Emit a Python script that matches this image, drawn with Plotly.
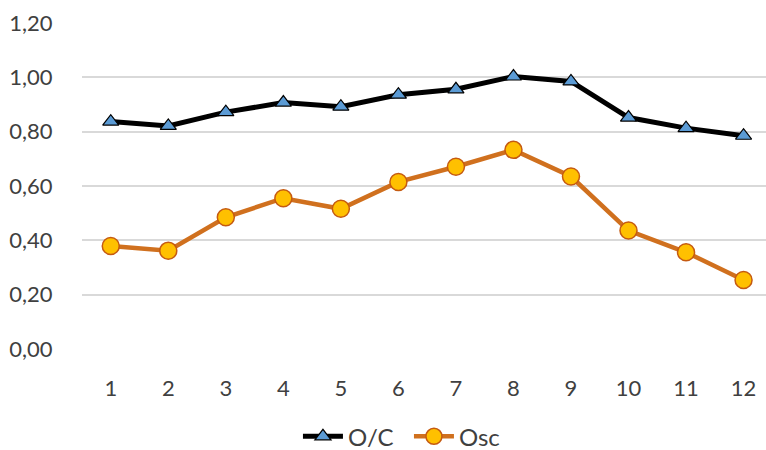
import plotly.graph_objects as go

months = [1, 2, 3, 4, 5, 6, 7, 8, 9, 10, 11, 12]
oc_values = [0.837, 0.821, 0.872, 0.907, 0.892, 0.936, 0.956, 1.003, 0.985, 0.852, 0.813, 0.785]
osc_values = [0.379, 0.362, 0.485, 0.555, 0.516, 0.615, 0.671, 0.733, 0.635, 0.436, 0.356, 0.254]
y_ticks = [0.0, 0.2, 0.4, 0.6, 0.8, 1.0, 1.2]

font_family = "Lato, Open Sans, sans-serif"
text_color = "#404040"

fig = go.Figure()
fig.add_trace(go.Scatter(
    x=months, y=oc_values, name="O/C", mode="lines+markers",
    line=dict(color="black", width=5),
    marker=dict(symbol="triangle-up", size=14, color="#5B9BD5",
                line=dict(color="black", width=1.2)),
))
fig.add_trace(go.Scatter(
    x=months, y=osc_values, name="Osc", mode="lines+markers",
    line=dict(color="#D0701E", width=4.5),
    marker=dict(symbol="circle", size=17, color="#FFC000",
                line=dict(color="#C55A11", width=1.5)),
))

fig.update_layout(
    width=766, height=450,
    margin=dict(l=82, r=0, t=23, b=101, autoexpand=False),
    paper_bgcolor="white", plot_bgcolor="white",
    separators=",.",
    font=dict(family=font_family, size=20, color=text_color),
    showlegend=True,
    legend=dict(orientation="h", x=0.478, xanchor="center", y=-0.2, yanchor="top",
                font=dict(size=24, color=text_color), itemwidth=40,
                entrywidth=56, entrywidthmode="pixels",
                traceorder="normal"),
)
fig.update_xaxes(
    range=[0.5, 12.39], tickmode="array", tickvals=months,
    showgrid=False, zeroline=False, showline=False,
    ticks="outside", ticklen=20, tickcolor="rgba(0,0,0,0)",
    tickfont=dict(size=22, color=text_color),
)
fig.update_yaxes(
    range=[0, 1.2], tickmode="array", tickvals=y_ticks, tickformat=".2f",
    showgrid=True, gridcolor="#D9D9D9", gridwidth=1.5,
    zeroline=False, showline=False,
    ticks="outside", ticklen=24, tickcolor="rgba(0,0,0,0)",
    tickfont=dict(size=22, color=text_color),
)

fig.write_html("out.html", config={"displayModeBar": False},
               post_script="document.body.style.margin='0px';")
